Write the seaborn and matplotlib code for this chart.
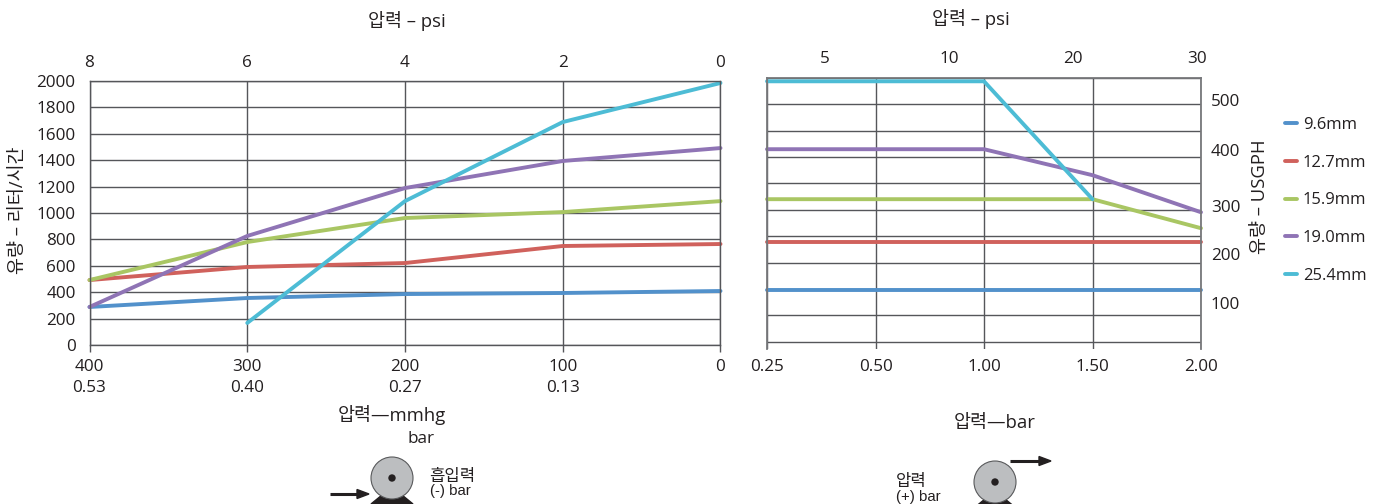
"""
Pump flow vs. pressure, vacuum side (left) and discharge side (right).
"""

import matplotlib.pyplot as plt
from matplotlib.patches import Circle, Polygon
import numpy as np
import pandas as pd
import seaborn as sns

sns.set_style('white')
plt.rcParams['font.family'] = ['Open Sans', 'Noto Sans CJK KR', 'DejaVu Sans']
plt.rcParams['text.color'] = '#231f20'
plt.rcParams['xtick.color'] = '#231f20'
plt.rcParams['ytick.color'] = '#231f20'

FS = 12.3
FS_LABEL = 13.3
FS_LEGEND = 11.9
LW = 2.8
GRID = '#55565a'

sizes = ['9.6mm', '12.7mm', '15.9mm', '19.0mm', '25.4mm']
colors = ['#5291cb', '#d0615c', '#a9c663', '#8f74b5', '#4dbcd5']

# suction side, litres/hour
vac_mmhg = [400, 300, 200, 100, 0]
vac_bar = ['0.53', '0.40', '0.27', '0.13', '']
vac_psi = [8, 6, 4, 2, 0]
vac_96 = [288, 356, 386, 394, 409]
vac_127 = [492, 591, 621, 750, 765]
vac_159 = [492, 780, 962, 1007, 1090]
vac_190 = [288, 826, 1189, 1394, 1492]
vac_254 = [np.nan, 167, 1090, 1689, 1985]

# discharge side, litres/hour
dis_bar = ['0.25', '0.50', '1.00', '1.50', '2.00']
dis_96 = [417, 417, 417, 417, 417]
dis_127 = [780, 780, 780, 780, 780]
dis_159 = [1106, 1106, 1106, 1106, 886]
dis_190 = [1485, 1485, 1485, 1288, 1007]
dis_254 = [2000, 2000, 2000, 1106, np.nan]

psi_labels = ['5', '10', '20', '30']
psi_pos = [0.53, 1.68, 2.82, 3.96]
usgph_labels = ['500', '400', '300', '200', '100']
usgph_pos = [1860, 1480, 1055, 690, 318]


def long_table(x, series):
    frames = []
    for name, vals in zip(sizes, series):
        frames.append(pd.DataFrame({'x': x, 'flow': vals, 'size': name}))
    return pd.concat(frames, ignore_index=True)


def px_axes(fig, x0, x1, y_top, y_bottom):
    w, h = 1383.0, 504.0
    return fig.add_axes([x0 / w, 1 - y_bottom / h, (x1 - x0) / w, (y_bottom - y_top) / h])


fig = plt.figure(figsize=(13.83, 5.04), dpi=100)

# overlay in pixel coords for the loose text and the pump icons
bg = fig.add_axes([0, 0, 1, 1], zorder=0)
bg.set_xlim(0, 1383)
bg.set_ylim(504, 0)
bg.axis('off')

# --- left chart --- #
ax1 = px_axes(fig, 89.5, 720.5, 81, 345)
ax1.set_zorder(2)
sns.lineplot(data=long_table(vac_mmhg, [vac_96, vac_127, vac_159, vac_190, vac_254]),
             x='x', y='flow', hue='size', hue_order=sizes, palette=colors,
             lw=LW, ax=ax1, sort=False, errorbar=None, estimator=None)
handles, labels = ax1.get_legend_handles_labels()
ax1.get_legend().remove()
ax1.set_xlim(400, 0)
ax1.set_ylim(0, 2000)
ax1.set_xticks(vac_mmhg)
ax1.set_xticklabels(['%d\n%s' % (a, b) for a, b in zip(vac_mmhg, vac_bar)],
                    fontsize=FS, linespacing=1.4)
ax1.set_yticks(range(0, 2001, 200))
ax1.tick_params(axis='y', labelsize=FS, length=0, pad=10)
ax1.tick_params(axis='x', length=5, width=1, color=GRID, pad=5, bottom=True)
ax1.grid(True, color=GRID, lw=1)
ax1.set_axisbelow(True)
ax1.set_xlabel('')
ax1.set_ylabel('')
for s in ax1.spines.values():
    s.set_color(GRID)
    s.set_linewidth(1)
for line in ax1.get_lines():
    line.set_clip_on(False)

top1 = ax1.twiny()
top1.set_xlim(8, 0)
top1.set_xticks(vac_psi)
top1.tick_params(axis='x', labelsize=FS, length=0, pad=7)
top1.grid(False)
top1.spines[:].set_visible(False)

# --- right chart --- #
ax2 = px_axes(fig, 767, 1201, 78, 349)
ax2.set_zorder(2)
sns.lineplot(data=long_table(dis_bar, [dis_96, dis_127, dis_159, dis_190, dis_254]),
             x='x', y='flow', hue='size', hue_order=sizes, palette=colors,
             lw=LW, ax=ax2, sort=False, errorbar=None, estimator=None, legend=False)
ax2.set_xlim(0, 4)
ax2.set_ylim(-30, 2025)
ax2.set_xticks(range(5))
ax2.set_xticklabels(dis_bar, fontsize=FS)
ax2.set_yticks(range(25, 2026, 200), minor=True)
ax2.set_yticks(usgph_pos)
ax2.set_yticklabels(usgph_labels, fontsize=FS)
ax2.yaxis.tick_right()
ax2.tick_params(axis='y', which='both', length=0, pad=7)
ax2.tick_params(axis='x', length=0, pad=7)
ax2.grid(True, axis='x', color=GRID, lw=1)
ax2.grid(True, axis='y', which='minor', color=GRID, lw=1)
ax2.grid(False, axis='y', which='major')
ax2.set_axisbelow(True)
ax2.set_xlabel('')
ax2.set_ylabel('')
for name, s in ax2.spines.items():
    s.set_color('#77787b')
    s.set_linewidth(1.3)
ax2.spines['bottom'].set_visible(False)
for line in ax2.get_lines():
    line.set_clip_on(False)

top2 = ax2.twiny()
top2.set_xlim(0, 4)
top2.set_xticks(psi_pos)
top2.set_xticklabels(psi_labels)
top2.tick_params(axis='x', labelsize=FS, length=0, pad=8)
top2.grid(False)
top2.spines[:].set_visible(False)

# legend
fig.legend(handles, labels, loc='upper left', bbox_to_anchor=(1285 / 1383, 1 - 117 / 504),
           frameon=False, fontsize=FS_LEGEND, handlelength=0.73, handletextpad=0.36,
           labelspacing=1.31, borderpad=0, borderaxespad=0)

# --- loose text --- #
bg.text(407, 21, '압력 – psi', fontsize=FS_LABEL, ha='center', va='center')
bg.text(971, 19, '압력 – psi', fontsize=FS_LABEL, ha='center', va='center')
bg.text(18, 210, '유량 – 리터/시간', fontsize=FS_LABEL, ha='center', va='center', rotation=90)
bg.text(1260, 197, '유량 – USGPH', fontsize=FS_LABEL, ha='center', va='center', rotation=90)
bg.text(392, 415, '압력—mmhg', fontsize=FS_LABEL, ha='center', va='center')
bg.text(421, 439, 'bar', fontsize=FS_LABEL - 1, ha='center', va='center')
bg.text(995, 423, '압력—bar', fontsize=FS_LABEL, ha='center', va='center')
bg.text(452, 477, '흡입력', fontsize=12, ha='center', va='center')
bg.text(450, 491, '(-) bar', fontsize=10.8, ha='center', va='center', family='Liberation Sans')
bg.text(911, 482, '압력', fontsize=12, ha='center', va='center')
bg.text(918, 497, '(+) bar', fontsize=10.8, ha='center', va='center', family='Liberation Sans')


def pump(cx, cy):
    bg.add_patch(Polygon([(cx - 21, cy + 26), (cx - 10, cy + 17), (cx + 10, cy + 17), (cx + 21, cy + 26)],
                         closed=True, color='#231f20', zorder=1))
    bg.add_patch(Circle((cx, cy), 21, fc='#bcbec0', ec='#58595b', lw=0.8, zorder=2))
    bg.add_patch(Circle((cx, cy), 3, color='#231f20', zorder=3))


def arrow(x0, x1, y):
    bg.plot([x0, x1 - 11], [y, y], color='#231f20', lw=2.2, solid_capstyle='butt')
    bg.add_patch(Polygon([(x1 - 12, y - 4.5), (x1, y), (x1 - 12, y + 4.5)], closed=True, color='#231f20'))


pump(392, 478)
arrow(330, 369, 494)
pump(995, 482)
arrow(1010, 1051, 461)

fig.savefig('out.png', dpi=100)
